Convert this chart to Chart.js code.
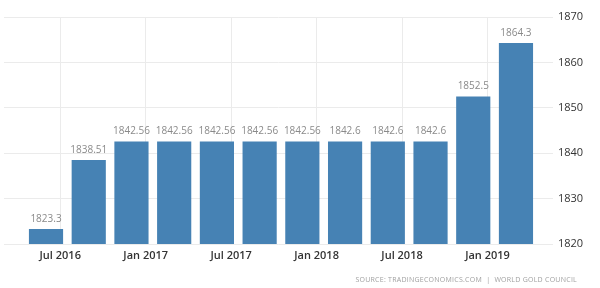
<!DOCTYPE html>
<html lang="en">
<head>
    <meta charset="UTF-8" />
    <title>Gold Reserves</title>
    <script src="https://cdn.jsdelivr.net/npm/chart.js"></script>
    <style>
        html, body {
            margin: 0;
            padding: 0;
            background: #fff;
        }
        .wrap {
            position: relative;
            width: 600px;
            height: 288px;
        }
        .source {
            position: absolute;
            right: 23px;
            top: 275px;
            font-family: "Open Sans", sans-serif;
            font-size: 7px;
            letter-spacing: 0.25px;
            color: #a0a0a0;
            white-space: nowrap;
        }
    </style>
</head>
<body>
    <div class="wrap">
        <canvas id="goldCanvas" width="600" height="288"></canvas>
        <div class="source">SOURCE: TRADINGECONOMICS.COM &nbsp;|&nbsp; WORLD GOLD COUNCIL</div>
    </div>
    <script>
        // quarterly readings (year-month of each bar)
        const periods = ["2016-06", "2016-09", "2016-12", "2017-03", "2017-06", "2017-09",
            "2017-12", "2018-03", "2018-06", "2018-09", "2018-12", "2019-03"];
        const reserves = [1823.3, 1838.51, 1842.56, 1842.56, 1842.56, 1842.56,
            1842.56, 1842.6, 1842.6, 1842.6, 1852.5, 1864.3];
        const tickDates = ["2016-07", "2017-01", "2017-07", "2018-01", "2018-07", "2019-01"];
        const tickLabels = ["Jul 2016", "Jan 2017", "Jul 2017", "Jan 2018", "Jul 2018", "Jan 2019"];

        // months since Jan 2016 (0-based)
        function monthIndex(s) {
            const [y, m] = s.split("-").map(Number);
            return (y - 2016) * 12 + (m - 1);
        }
        const tickPos = tickDates.map(monthIndex);

        const valueLabels = {
            id: "valueLabels",
            afterDatasetsDraw(chart) {
                const ctx = chart.ctx;
                const meta = chart.getDatasetMeta(0);
                ctx.save();
                ctx.font = "10px 'Open Sans', sans-serif";
                ctx.fillStyle = "#8a8a8a";
                ctx.textAlign = "center";
                ctx.textBaseline = "bottom";
                meta.data.forEach((bar, i) => {
                    ctx.fillText(String(reserves[i]), bar.x, bar.y - 5);
                });
                ctx.restore();
            }
        };

        const ctx = document.getElementById("goldCanvas").getContext("2d");
        new Chart(ctx, {
            type: "bar",
            data: {
                datasets: [{
                    data: periods.map((p, i) => ({ x: monthIndex(p), y: reserves[i] })),
                    backgroundColor: "#4682b4",
                    barPercentage: 0.8,
                    categoryPercentage: 1.0,
                    borderWidth: 0
                }]
            },
            options: {
                responsive: false,
                animation: false,
                layout: { padding: { top: 17, left: 4, right: 0, bottom: 0 } },
                plugins: {
                    legend: { display: false },
                    tooltip: { enabled: false }
                },
                scales: {
                    x: {
                        type: "linear",
                        offset: false,
                        min: 2.05,
                        max: 40.6,
                        afterBuildTicks: (scale) => {
                            scale.ticks = tickPos.map(v => ({ value: v }));
                        },
                        afterFit: (scale) => { scale.height = 44; },
                        grid: { color: "#ebebeb", drawTicks: false, offset: false },
                        border: { display: false },
                        ticks: {
                            padding: 5,
                            maxRotation: 0,
                            autoSkip: false,
                            color: "#333",
                            font: { family: "'Open Sans', sans-serif", size: 11, weight: "600" },
                            callback: (v) => {
                                const i = tickPos.indexOf(v);
                                return i >= 0 ? tickLabels[i] : "";
                            }
                        }
                    },
                    y: {
                        position: "right",
                        min: 1820,
                        max: 1870,
                        afterFit: (scale) => { scale.width = 47; },
                        grid: { color: "#ebebeb", drawTicks: false },
                        border: { display: false },
                        ticks: {
                            stepSize: 10,
                            padding: 5,
                            color: "#333",
                            font: { family: "'Open Sans', sans-serif", size: 11 },
                            callback: (v) => String(v)
                        }
                    }
                }
            },
            plugins: [valueLabels]
        });
    </script>
</body>
</html>
